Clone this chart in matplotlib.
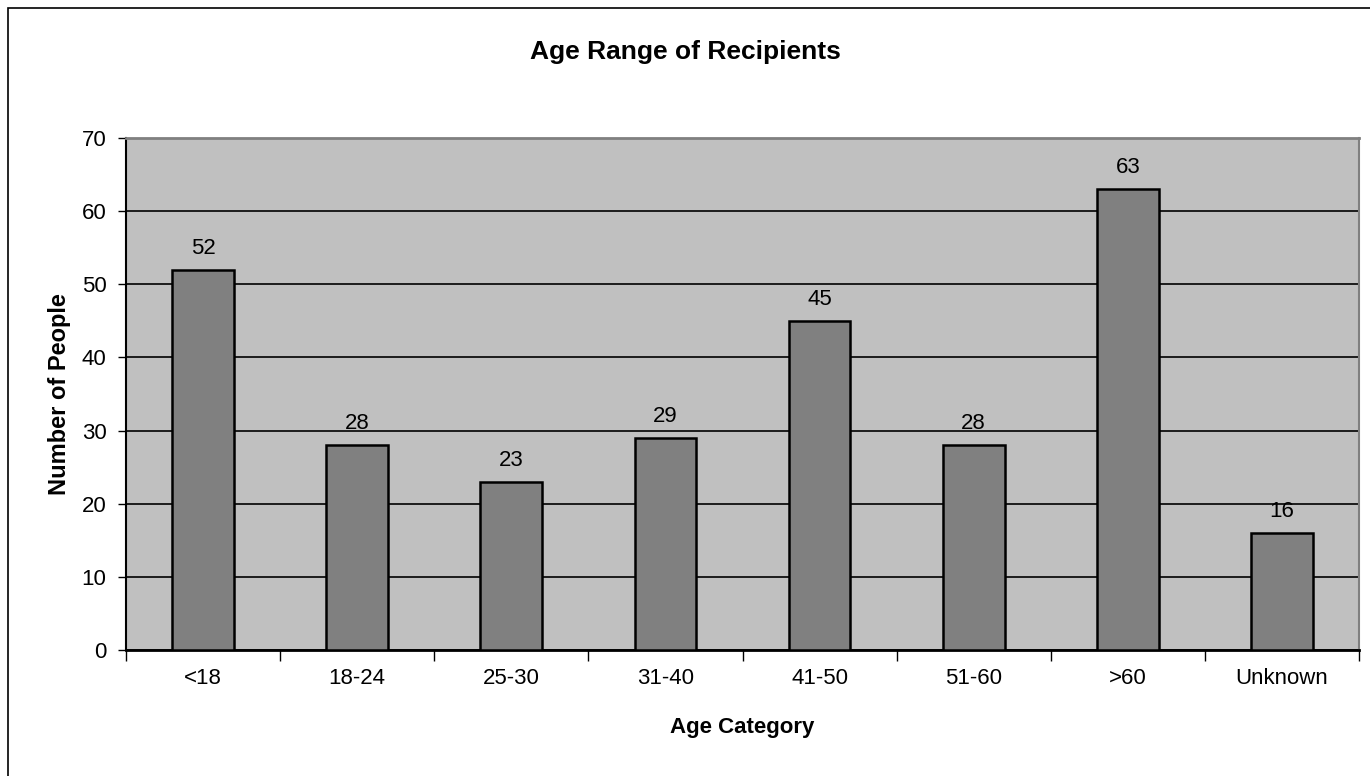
import matplotlib.pyplot as plt
from matplotlib.patches import Rectangle

# data
categories = ["<18", "18-24", "25-30", "31-40", "41-50", "51-60", ">60", "Unknown"]
counts = [52, 28, 23, 29, 45, 28, 63, 16]
yticks = [0, 10, 20, 30, 40, 50, 60, 70]

plt.rcParams['font.family'] = ['Liberation Sans', 'DejaVu Sans']

fig = plt.figure(figsize=(13.7, 7.76), dpi=100)
ax = fig.add_axes([126/1370, 126/776, (1359-126)/1370, (650-138)/776])

# figure frame
fig.patches.append(Rectangle((8/1370, -0.01), 1.02, (768/776) + 0.01,
                             transform=fig.transFigure, fill=False,
                             edgecolor='black', linewidth=1.2))

ax.set_facecolor('#c0c0c0')
x = list(range(len(categories)))
ax.bar(x, counts, width=0.4, color='#808080', edgecolor='black', linewidth=1.8, zorder=3)

for xi, v in zip(x, counts):
    ax.annotate(str(v), (xi, v), xytext=(0, 8), textcoords='offset points',
                ha='center', va='bottom', fontsize=16, zorder=4)

ax.set_xlim(-0.5, len(categories) - 0.5)
ax.set_ylim(0, 70)
ax.set_yticks(yticks)
ax.yaxis.grid(True, color='black', linewidth=1.2, zorder=1)
ax.set_axisbelow(True)

ax.set_xticks(x)
ax.set_xticklabels(categories, fontsize=16)
ax.tick_params(axis='x', length=0, pad=13)
ax.set_xticks([i - 0.5 for i in range(len(categories) + 1)], minor=True)
ax.tick_params(axis='x', which='minor', length=8, width=1, direction='out')
ax.tick_params(axis='y', labelsize=16, length=6, width=1, direction='out', pad=8)

ax.spines['top'].set_color('#808080')
ax.spines['top'].set_linewidth(2)
ax.spines['right'].set_color('#808080')
ax.spines['right'].set_linewidth(1.5)
ax.spines['left'].set_linewidth(1.5)
ax.spines['bottom'].set_linewidth(2)

ax.set_xlabel("Age Category", fontsize=16, fontweight='bold', labelpad=20)
ax.set_ylabel("Number of People", fontsize=17, fontweight='bold', labelpad=8)
fig.text(0.5, 1 - 52/776, "Age Range of Recipients", ha='center', va='center',
         fontsize=19, fontweight='bold')

fig.savefig("out.png", dpi=100)
